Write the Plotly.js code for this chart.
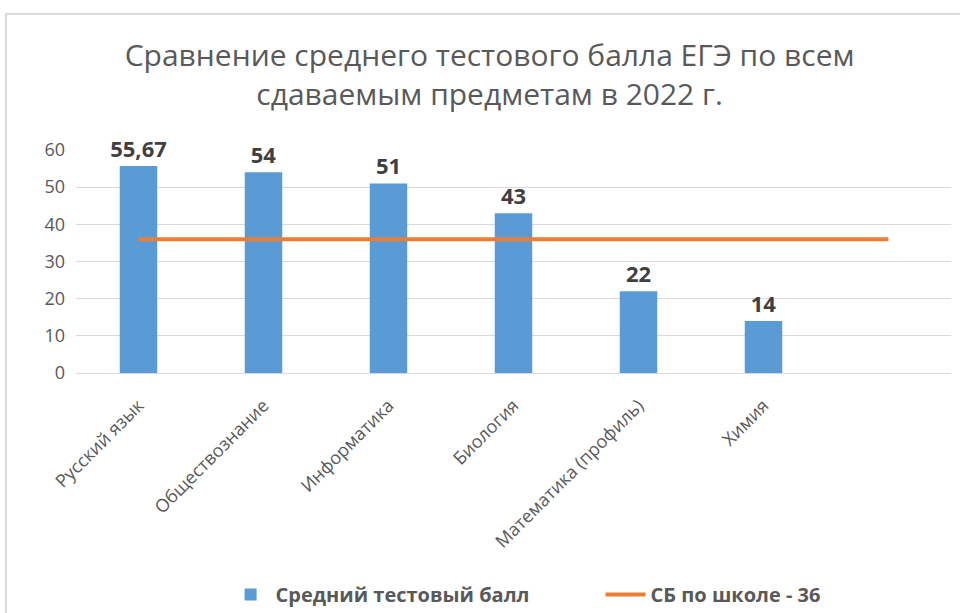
<!DOCTYPE html>
<html>
<head>
<meta charset="utf-8">
<script src="https://cdn.plot.ly/plotly-3.0.1.min.js"></script>
<style>
html,body{margin:0;padding:0;background:#fff;overflow:hidden;}
#frame{position:absolute;left:5px;top:13px;width:1000px;height:700px;border:2px solid #d9d9d9;box-sizing:border-box;}
#chart{position:absolute;left:0;top:0;width:960px;height:613px;}
</style>
</head>
<body>
<div id="frame"></div>
<div id="chart"></div>
<script>
const categories = ["Русский язык","Обществознание","Информатика","Биология","Математика (профиль)","Химия",""];
const scores = [55.67, 54, 51, 43, 22, 14];
const scoreLabels = ["55,67","54","51","43","22","14"];
const schoolAvg = [36, 36, 36, 36, 36, 36, 36];
const yTicks = [0, 10, 20, 30, 40, 50, 60];

const idx = categories.map((c, i) => i);

const traces = [
  {
    type: "bar",
    name: "Средний тестовый балл",
    x: idx.slice(0, scores.length),
    y: scores,
    width: 0.3,
    marker: {color: "#5B9BD5"},
    text: scoreLabels,
    textposition: "outside",
    constraintext: "none",
    textfont: {family: "Open Sans, sans-serif", size: 22, color: "#404040", weight: 700},
    cliponaxis: false,
    hoverinfo: "none"
  },
  {
    type: "scatter",
    mode: "lines",
    name: "СБ по школе - 36",
    x: idx,
    y: schoolAvg,
    line: {color: "#ED7D31", width: 4},
    hoverinfo: "none"
  }
];

const layout = {
  width: 960,
  height: 613,
  paper_bgcolor: "rgba(0,0,0,0)",
  plot_bgcolor: "rgba(0,0,0,0)",
  margin: {l: 76, r: 9, t: 150, b: 240, autoexpand: false},
  font: {family: "Open Sans, sans-serif", color: "#595959"},
  title: {
    text: "Сравнение среднего тестового балла ЕГЭ по всем<br>сдаваемым предметам в 2022 г.",
    x: 0.51, xanchor: "center",
    y: 0.892, yanchor: "middle",
    font: {family: "Open Sans, sans-serif", size: 30, color: "#595959"}
  },
  xaxis: {
    type: "linear",
    automargin: false,
    range: [-0.5, categories.length - 0.5],
    tickvals: idx,
    ticktext: categories,
    tickangle: -45,
    tickfont: {size: 18, color: "#595959"},
    ticklabelstandoff: 14,
    showgrid: false,
    zeroline: false,
    showline: true,
    linecolor: "#d9d9d9",
    linewidth: 1,
    ticks: ""
  },
  yaxis: {
    automargin: false,
    range: [0, 60],
    tickvals: yTicks,
    tickfont: {size: 18, color: "#595959"},
    gridcolor: "#d9d9d9",
    gridwidth: 1,
    zeroline: false,
    showline: false,
    ticks: "",
    ticklabelstandoff: 10
  },
  showlegend: true,
  legend: {
    orientation: "h",
    xref: "container",
    yref: "container",
    x: 0.235, xanchor: "left",
    y: 0.03, yanchor: "middle",
    font: {size: 20, color: "#595959", weight: 700},
    itemwidth: 40,
    entrywidth: 320,
    tracegroupgap: 0
  }
};

Plotly.newPlot("chart", traces, layout, {displayModeBar: false, staticPlot: true});
</script>
</body>
</html>
